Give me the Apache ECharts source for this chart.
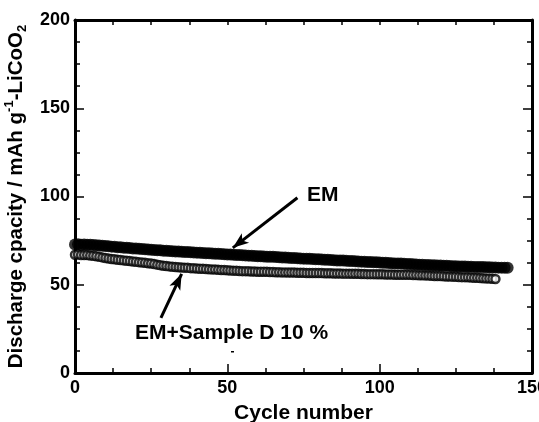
<!DOCTYPE html>
<html><head><meta charset="utf-8">
<script src="https://cdn.jsdelivr.net/npm/echarts@6/dist/echarts.min.js"></script>
<style>html,body{margin:0;padding:0;background:#fff}#c{width:539px;height:422px}</style>
</head><body><div id="c"></div>
<script>
const xTicks = [0, 50, 100, 150];
const yTicks = [0, 50, 100, 150, 200];
const emValues = [
72.8,72.9,72.7,72.8,72.6,72.7,72.5,72.4,72.3,72.1,
71.9,71.8,71.6,71.5,71.3,71.2,71.0,70.9,70.8,70.6,
70.5,70.4,70.2,70.1,70.0,69.8,69.7,69.6,69.5,69.3,
69.2,69.1,69.0,68.9,68.8,68.7,68.6,68.5,68.4,68.3,
68.2,68.1,68.0,67.9,67.8,67.7,67.6,67.5,67.4,67.3,
67.2,67.1,67.0,66.9,66.8,66.7,66.6,66.5,66.4,66.3,
66.2,66.1,66.0,65.9,65.8,65.8,65.7,65.6,65.5,65.4,
65.3,65.2,65.1,65.0,64.9,64.8,64.7,64.7,64.6,64.5,
64.4,64.3,64.2,64.1,64.0,63.9,63.8,63.8,63.7,63.6,
63.5,63.4,63.3,63.2,63.1,63.0,62.9,62.9,62.8,62.7,
62.6,62.5,62.4,62.3,62.2,62.1,62.0,62.0,61.9,61.8,
61.7,61.6,61.5,61.4,61.3,61.2,61.2,61.1,61.0,60.9,
60.9,60.8,60.7,60.6,60.5,60.5,60.4,60.3,60.3,60.2,
60.2,60.1,60.1,60.0,60.0,59.9,59.9,59.8,59.8,59.7,
59.7,59.6,59.6];
const emdValues = [
67.0,67.1,66.9,66.8,66.8,66.6,66.4,66.1,65.8,65.5,
65.2,64.9,64.6,64.4,64.2,64.0,63.8,63.6,63.4,63.2,
63.0,62.8,62.6,62.4,62.2,62.0,61.7,61.4,61.1,60.8,
60.6,60.4,60.2,60.0,59.9,59.8,59.7,59.6,59.4,59.3,
59.2,59.1,59.0,58.9,58.8,58.7,58.6,58.5,58.4,58.3,
58.2,58.1,58.0,57.9,57.8,57.7,57.7,57.6,57.5,57.5,
57.4,57.4,57.3,57.3,57.2,57.2,57.1,57.1,57.0,57.0,
56.9,56.9,56.9,56.8,56.8,56.8,56.7,56.7,56.7,56.6,
56.6,56.6,56.5,56.5,56.5,56.4,56.4,56.4,56.3,56.3,
56.3,56.2,56.2,56.2,56.1,56.1,56.0,56.0,56.0,55.9,
55.9,55.9,55.8,55.8,55.8,55.7,55.7,55.7,55.6,55.6,
55.6,55.5,55.5,55.4,55.4,55.3,55.2,55.1,55.0,54.9,
54.9,54.8,54.7,54.7,54.6,54.5,54.4,54.3,54.3,54.2,
54.1,54.0,53.9,53.8,53.7,53.6,53.5,53.4,53.3];
const seriesNames = ['EM', 'EM+Sample D 10 %'];
const emArrow = [[73.0, 99.3], [51.8, 70.9]];
const emdArrow = [[28.2, 31.2], [35.0, 56.2]];

const FONT = '"Liberation Sans", Arial, sans-serif';
const emData = emValues.map((v, i) => [i, v]);
const emdData = emdValues.map((v, i) => [i, v]);

const axisLine = {show: true, onZero: false, lineStyle: {color: '#000', width: 3}};
const tickIn = {show: true, inside: true, length: 9, lineStyle: {color: '#000', width: 1.5}};
const minorIn = {show: true, splitNumber: 4, length: 5, lineStyle: {color: '#000', width: 1.5}};
const lbl = {color: '#000', fontFamily: FONT, fontWeight: 'bold', fontSize: 18};

const chart = echarts.init(document.getElementById('c'), null, {renderer: 'canvas'});
chart.setOption({
  backgroundColor: '#fff',
  animation: false,
  grid: {left: 75, right: 7, top: 20, bottom: 49, containLabel: false, outerBoundsMode: 'none'},
  xAxis: [
    {type: 'value', min: xTicks[0], max: xTicks[xTicks.length - 1], interval: 50,
     axisLine, axisTick: tickIn, minorTick: Object.assign({}, minorIn), splitLine: {show: false},
     axisLabel: Object.assign({margin: 6}, lbl),
     name: 'Cycle number', nameLocation: 'middle', nameGap: 30,
     nameTextStyle: {color: '#000', fontFamily: FONT, fontWeight: 'bold', fontSize: 21}},
    {type: 'value', position: 'top', min: 0, max: 150, interval: 50,
     axisLine, axisTick: Object.assign({}, tickIn, {length: 5}), minorTick: minorIn, splitLine: {show: false},
     axisLabel: {show: false}}
  ],
  yAxis: [
    {type: 'value', min: yTicks[0], max: yTicks[yTicks.length - 1], interval: 50,
     axisLine, axisTick: tickIn, minorTick: minorIn, splitLine: {show: false},
     axisLabel: Object.assign({margin: 5}, lbl),
     name: '{m|Discharge cpacity / mAh g}{sup|-1}{m|-LiCoO}{sub|2}',
     nameLocation: 'middle', nameRotate: 90, nameGap: 44,
     nameTextStyle: {
       color: '#000', fontFamily: FONT, fontWeight: 'bold', fontSize: 20.5, lineHeight: 26,
       rich: {
         m: {color: '#000', fontFamily: FONT, fontWeight: 'bold', fontSize: 20.5, lineHeight: 26},
         sup: {color: '#000', fontFamily: FONT, fontWeight: 'bold', fontSize: 13, verticalAlign: 'top', lineHeight: 26, padding: [0, 0, 10, 0]},
         sub: {color: '#000', fontFamily: FONT, fontWeight: 'bold', fontSize: 13, verticalAlign: 'bottom', lineHeight: 26, padding: [8, 0, 0, 0]}
       }
     }},
    {type: 'value', position: 'right', min: 0, max: 200, interval: 50,
     axisLine, axisTick: tickIn, minorTick: minorIn, splitLine: {show: false},
     axisLabel: {show: false}}
  ],
  series: [
    {name: seriesNames[0], type: 'scatter', data: emData, symbol: 'circle', symbolSize: 12,
     itemStyle: {color: '#000'}, z: 2,
     markLine: {silent: true, symbol: ['none', 'arrow'], symbolSize: [9, 16], label: {show: false},
       lineStyle: {color: '#000', width: 3, type: 'solid'},
       data: [
         [{coord: emArrow[0]}, {coord: emArrow[1]}],
         [{coord: emdArrow[0]}, {coord: emdArrow[1]}]
       ]}},
    {name: seriesNames[1], type: 'scatter', data: emdData, symbol: 'circle', symbolSize: 8,
     itemStyle: {color: '#fff', borderColor: '#000', borderWidth: 2.5}, z: 3}
  ],
  graphic: [
    {type: 'text', left: 307, top: 185, style: {text: seriesNames[0], fill: '#000', font: 'bold 21px ' + FONT}},
    {type: 'text', left: 135, top: 323, style: {text: seriesNames[1], fill: '#000', font: 'bold 21px ' + FONT}},
    {type: 'rect', left: 231, top: 351, shape: {width: 3, height: 1.5}, style: {fill: '#000'}}
  ]
});
</script></body></html>
